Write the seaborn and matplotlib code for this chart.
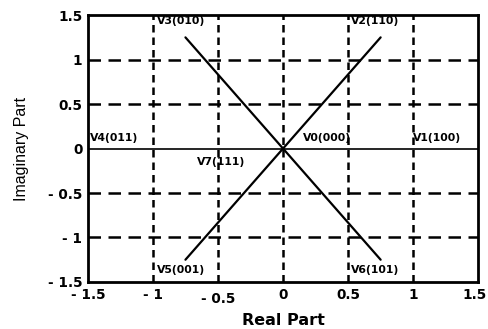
import numpy as np
import pandas as pd
import seaborn as sns
import matplotlib.pyplot as plt
from matplotlib.transforms import ScaledTranslation

# diagonal lines (V3 -> V6 and V5 -> V2)
line_x = [-0.75, 0.75]
line_a_y = [1.25, -1.25]
line_b_y = [-1.25, 1.25]

tick_vals = [-1.5, -1, -0.5, 0, 0.5, 1, 1.5]
tick_text = ['- 1.5', '- 1', '- 0.5', '0', '0.5', '1', '1.5']

vec_names = ['V3(010)', 'V2(110)', 'V4(011)', 'V0(000)', 'V1(100)',
             'V7(111)', 'V5(001)', 'V6(101)']
vec_x = [-0.97, 0.52, -1.48, 0.15, 1.0, -0.66, -0.97, 0.52]
vec_y = [1.43, 1.43, 0.12, 0.12, 0.12, -0.15, -1.36, -1.36]

sns.set_style('white')
plt.rcParams['font.family'] = ['DejaVu Sans']
plt.rcParams['text.color'] = 'black'
plt.rcParams['axes.labelcolor'] = 'black'
plt.rcParams['xtick.color'] = 'black'
plt.rcParams['ytick.color'] = 'black'

fig = plt.figure(figsize=(4.88, 3.29), dpi=100)
ax = fig.add_axes([0.180, 0.143, 0.800, 0.811])

df = pd.DataFrame({'x': line_x + line_x,
                   'y': line_a_y + line_b_y,
                   'line': ['a', 'a', 'b', 'b']})
sns.lineplot(data=df, x='x', y='y', units='line', estimator=None,
             color='black', linewidth=1.6, ax=ax, legend=False)

for v in [-1, -0.5, 0.5, 1]:
    ax.axhline(v, color='black', linewidth=1.8, linestyle=(0, (5, 3)), zorder=1)
for v in [-1, -0.5, 0, 0.5, 1]:
    ax.axvline(v, color='black', linewidth=1.8, linestyle=(0, (3, 2)), zorder=1)
ax.axhline(0, color='black', linewidth=1.2, zorder=1)

for name, x, y in zip(vec_names, vec_x, vec_y):
    ax.text(x, y, name, fontsize=7.8, fontweight='bold', ha='left', va='center',
            color='black', zorder=5)

ax.set_xlim(-1.5, 1.5)
ax.set_ylim(-1.5, 1.5)
ax.set_xticks(tick_vals)
ax.set_xticklabels(tick_text, fontsize=9.8, fontweight='bold')
ax.set_yticks(tick_vals)
ax.set_yticklabels(tick_text, fontsize=9.8, fontweight='bold')
ax.tick_params(length=0, pad=4)
xl = ax.get_xticklabels()
xl[2].set_transform(xl[2].get_transform() + ScaledTranslation(0, -3.5 / 72, fig.dpi_scale_trans))
xl[-1].set_transform(xl[-1].get_transform() + ScaledTranslation(-3 / 72, 0, fig.dpi_scale_trans))

ax.set_xlabel('Real Part', fontsize=11.5, fontweight='bold', labelpad=4)
ax.xaxis.set_label_coords(0.5, -0.115)
ax.set_ylabel('Imaginary Part', fontsize=11.5, color='black',
              family=['Liberation Sans', 'DejaVu Sans'])
ax.yaxis.set_label_coords(-0.15, 0.5)

for s in ax.spines.values():
    s.set_color('black')
    s.set_linewidth(2)

fig.savefig('out.png', dpi=100)
